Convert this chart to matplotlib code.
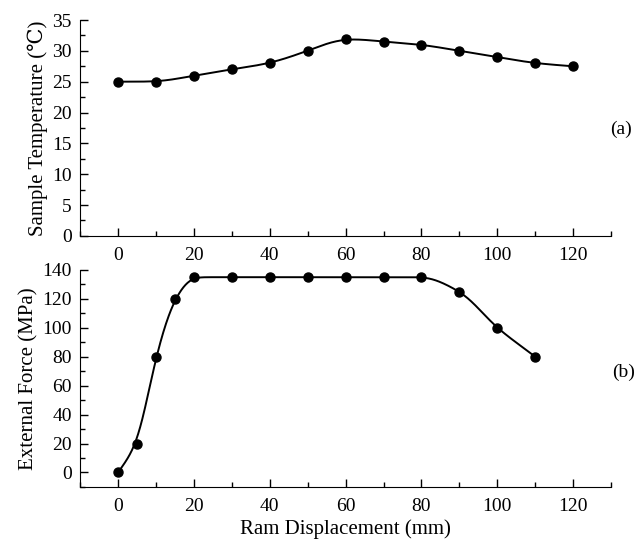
import numpy as np
import matplotlib
matplotlib.use("Agg")
import matplotlib.pyplot as plt
from matplotlib.ticker import MultipleLocator

plt.rcParams['font.family'] = ['Liberation Serif', 'DejaVu Serif']

# data
disp_a = [0, 10, 20, 30, 40, 50, 60, 70, 80, 90, 100, 110, 120]
temp_a = [25, 25, 26, 27, 28, 30, 32, 31.5, 31, 30, 29, 28, 27.5]

disp_b = [0, 5, 10, 15, 20, 30, 40, 50, 60, 70, 80, 90, 100, 110]
force_b = [0, 20, 80, 120, 135, 135, 135, 135, 135, 135, 135, 125, 100, 80]


def pchip(x, y, xs):
    # shape preserving cubic, keeps the plateau flat
    x = np.asarray(x, float); y = np.asarray(y, float)
    h = np.diff(x); d = np.diff(y) / h
    n = len(x)
    m = np.zeros(n)
    for k in range(1, n - 1):
        if d[k - 1] * d[k] > 0:
            w1 = 2 * h[k] + h[k - 1]
            w2 = h[k] + 2 * h[k - 1]
            m[k] = (w1 + w2) / (w1 / d[k - 1] + w2 / d[k])
    m[0] = d[0]; m[-1] = d[-1]
    idx = np.clip(np.searchsorted(x, xs) - 1, 0, n - 2)
    t = (xs - x[idx]) / h[idx]
    h00 = 2 * t**3 - 3 * t**2 + 1
    h10 = t**3 - 2 * t**2 + t
    h01 = -2 * t**3 + 3 * t**2
    h11 = t**3 - t**2
    return h00 * y[idx] + h10 * h[idx] * m[idx] + h01 * y[idx + 1] + h11 * h[idx] * m[idx + 1]


def smooth_curve(x, y, sigma, n=600):
    # pchip through the points, then a light gaussian blur to round the corners
    xf = np.linspace(x[0], x[-1], n)
    yf = pchip(x, y, xf)
    dx = xf[1] - xf[0]
    half = int(4 * sigma / dx)
    k = np.exp(-0.5 * (np.arange(-half, half + 1) * dx / sigma) ** 2)
    k /= k.sum()
    # linear extension at the ends so the ends stay put
    left = yf[0] - (yf[1] - yf[0]) * np.arange(half, 0, -1)
    right = yf[-1] + (yf[-1] - yf[-2]) * np.arange(1, half + 1)
    ys = np.convolve(np.concatenate([left, yf, right]), k, mode='valid')
    return xf, ys


fig = plt.figure(figsize=(6.4, 5.41), dpi=100)
ax1 = fig.add_axes([0.125, 0.564, 0.83, 0.399])
ax2 = fig.add_axes([0.125, 0.100, 0.83, 0.401])

for ax, xs, ys, sg in [(ax1, disp_a, temp_a, 3.5), (ax2, disp_b, force_b, 1.8)]:
    xf, yf = smooth_curve(xs, ys, sg)
    ax.plot(xf, yf, color='black', lw=1.4)
    ax.plot(xs, ys, 'o', color='black', ms=6.5)
    ax.spines['top'].set_visible(False)
    ax.spines['right'].set_visible(False)
    ax.set_xlim(-10, 130)
    ax.xaxis.set_major_locator(MultipleLocator(20))
    ax.xaxis.set_minor_locator(MultipleLocator(10))
    ax.tick_params(which='both', direction='in', labelsize=14, width=1)
    ax.tick_params(which='major', length=6)
    ax.tick_params(which='minor', length=3.5)
    ax.tick_params(axis='x', which='major', pad=8)
    ax.tick_params(axis='y', which='major', pad=6)

ax1.set_ylim(0, 35)
ax1.yaxis.set_major_locator(MultipleLocator(5))
ax1.yaxis.set_minor_locator(MultipleLocator(2.5))
ax1.set_ylabel('Sample Temperature (\u2103)', fontsize=15, labelpad=3)

ax2.set_ylim(-10, 140)
ax2.yaxis.set_major_locator(MultipleLocator(20))
ax2.yaxis.set_minor_locator(MultipleLocator(10))
ax2.set_ylabel('External Force (MPa)', fontsize=15, labelpad=3)
ax2.set_xlabel('Ram Displacement (mm)', fontsize=15, labelpad=3)

fig.text(0.953, 0.76, '(a)', fontsize=14, ha='left', va='center')
fig.text(0.957, 0.312, '(b)', fontsize=14, ha='left', va='center')

fig.savefig('out.png', dpi=100)
